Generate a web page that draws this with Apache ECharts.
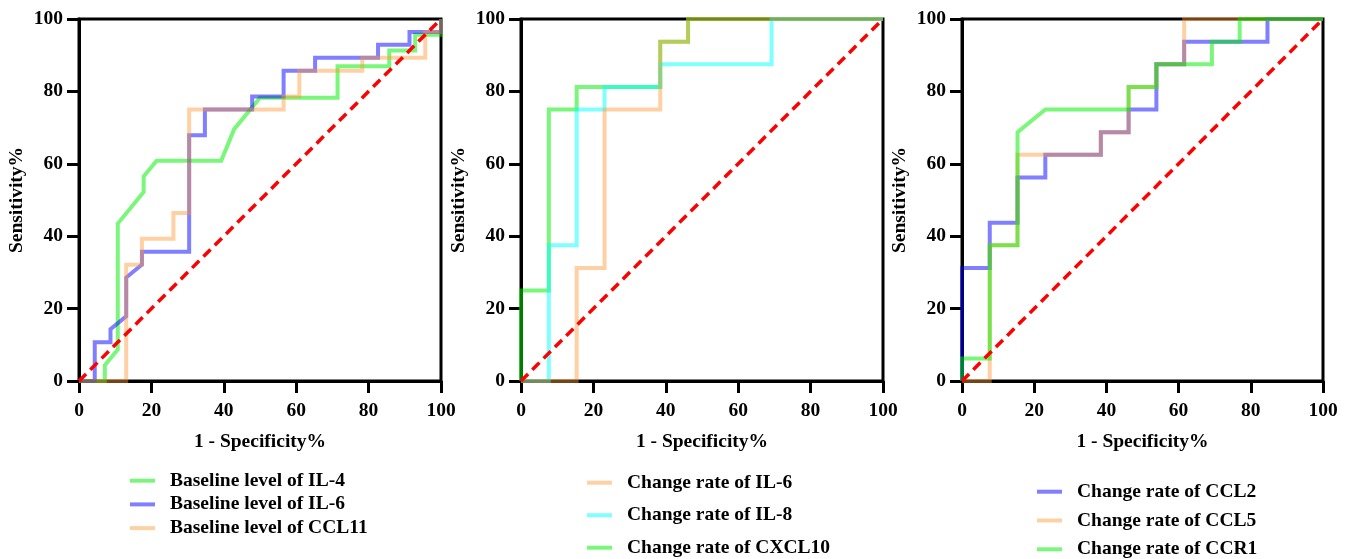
<!DOCTYPE html>
<html>
<head>
<meta charset="utf-8">
<title>ROC curves</title>
<script src="https://cdn.jsdelivr.net/npm/echarts@6/dist/echarts.min.js"></script>
<style>
  html, body { margin: 0; padding: 0; background: #fff; }
  #chart { width: 1350px; height: 559px; }
</style>
</head>
<body>
<div id="chart"></div>
<script>
// Axis ticks shared by all three panels (percent scale)
const axisTicks = [0, 20, 40, 60, 80, 100];

// Panel A: baseline levels — ROC points [1 - specificity %, sensitivity %]
const baseIL4 = [[0,0],[7.14,0],[7.14,4.35],[10.71,8.7],[10.71,43.48],[17.86,52.17],[17.86,56.52],[21.43,60.87],[39.29,60.87],[42.86,69.57],[50,78.26],[71.43,78.26],[71.43,86.96],[85.71,86.96],[85.71,91.3],[92.86,91.3],[92.86,95.65],[100,95.65],[100,100]];
const baseIL6 = [[0,0],[4.35,0],[4.35,10.71],[8.7,10.71],[8.7,14.29],[13.04,17.86],[13.04,28.57],[17.39,32.14],[17.39,35.71],[30.43,35.71],[30.43,67.86],[34.78,67.86],[34.78,75],[47.83,75],[47.83,78.57],[56.52,78.57],[56.52,85.71],[65.22,85.71],[65.22,89.29],[82.61,89.29],[82.61,92.86],[91.3,92.86],[91.3,96.43],[100,96.43],[100,100]];
const baseCCL11 = [[0,0],[13.04,0],[13.04,32.14],[17.39,32.14],[17.39,39.29],[26.09,39.29],[26.09,46.43],[30.43,46.43],[30.43,75],[56.52,75],[56.52,78.57],[60.87,78.57],[60.87,85.71],[78.26,85.71],[78.26,89.29],[95.65,89.29],[95.65,96.43],[100,96.43],[100,100]];

// Panel B: change rates
const rateIL6 = [[0,0],[15.38,0],[15.38,31.25],[23.08,31.25],[23.08,75],[38.46,75],[38.46,93.75],[46.15,93.75],[46.15,100],[100,100]];
const rateIL8 = [[0,0],[7.69,0],[7.69,37.5],[15.38,37.5],[15.38,75],[23.08,75],[23.08,81.25],[38.46,81.25],[38.46,87.5],[69.23,87.5],[69.23,100],[100,100]];
const rateCXCL10 = [[0,0],[0,25],[7.69,25],[7.69,75],[15.38,75],[15.38,81.25],[38.46,81.25],[38.46,93.75],[46.15,93.75],[46.15,100],[100,100]];

// Panel C: change rates of chemokines / receptor
const rateCCL2 = [[0,0],[0,31.25],[7.69,31.25],[7.69,43.75],[15.38,43.75],[15.38,56.25],[23.08,56.25],[23.08,62.5],[38.46,62.5],[38.46,68.75],[46.15,68.75],[46.15,75],[53.85,75],[53.85,87.5],[61.54,87.5],[61.54,93.75],[84.62,93.75],[84.62,100],[100,100]];
const rateCCL5 = [[0,0],[7.69,0],[7.69,37.5],[15.38,37.5],[15.38,62.5],[38.46,62.5],[38.46,68.75],[46.15,68.75],[46.15,81.25],[53.85,81.25],[53.85,87.5],[61.54,87.5],[61.54,100],[100,100]];
const rateCCR1 = [[0,0],[0,6.25],[7.69,6.25],[7.69,37.5],[15.38,37.5],[15.38,68.75],[23.08,75],[46.15,75],[46.15,81.25],[53.85,81.25],[53.85,87.5],[69.23,87.5],[69.23,93.75],[76.92,93.75],[76.92,100],[100,100]];

// Chance line
const chanceLine = [[0,0],[100,100]];

const GREEN = 'rgba(0,240,0,0.52)';
const BLUE = 'rgba(0,0,255,0.5)';
const PEACH = 'rgba(255,150,50,0.45)';
const CYAN = 'rgba(0,255,255,0.5)';
const FONT = '"Liberation Serif", "Times New Roman", serif';

// curves are listed in legend order; drawOrder gives the stacking (last on top)
const panels = [
  { left: 79, width: 362, legendLeft: 130, legendTop: 470.7, gap: 3.7, drawOrder: [0, 1, 2],
    curves: [['Baseline level of IL-4', baseIL4, GREEN], ['Baseline level of IL-6', baseIL6, BLUE], ['Baseline level of CCL11', baseCCL11, PEACH]] },
  { left: 521, width: 362, legendLeft: 587, legendTop: 472.7, gap: 12.5, drawOrder: [2, 1, 0],
    curves: [['Change rate of IL-6', rateIL6, PEACH], ['Change rate of IL-8', rateIL8, CYAN], ['Change rate of CXCL10', rateCXCL10, GREEN]] },
  { left: 962, width: 361, legendLeft: 1037, legendTop: 481.7, gap: 8.8, drawOrder: [0, 1, 2],
    curves: [['Change rate of CCL2', rateCCL2, BLUE], ['Change rate of CCL5', rateCCL5, PEACH], ['Change rate of CCR1', rateCCR1, GREEN]] }
];

const grid = [], xAxis = [], yAxis = [], series = [], legend = [];

panels.forEach((p, i) => {
  grid.push({ left: p.left, top: 19, width: p.width, height: 362, show: true, borderColor: '#000', borderWidth: 3, containLabel: false });
  const labelStyle = { color: '#000', fontFamily: FONT, fontWeight: 'bold', fontSize: 19.5 };
  xAxis.push({
    type: 'value', gridIndex: i, min: axisTicks[0], max: axisTicks[axisTicks.length - 1], interval: axisTicks[1] - axisTicks[0],
    name: '1 - Specificity%', nameLocation: 'middle', nameGap: 51, nameTextStyle: labelStyle,
    axisLine: { lineStyle: { color: '#000', width: 3 } },
    axisTick: { inside: false, length: 12, lineStyle: { color: '#000', width: 3 } },
    axisLabel: Object.assign({ margin: 20 }, labelStyle),
    splitLine: { show: false }
  });
  yAxis.push({
    type: 'value', gridIndex: i, min: axisTicks[0], max: axisTicks[axisTicks.length - 1], interval: axisTicks[1] - axisTicks[0],
    name: 'Sensitivity%', nameLocation: 'middle', nameGap: 52, nameTextStyle: labelStyle,
    axisLine: { lineStyle: { color: '#000', width: 3 } },
    axisTick: { inside: false, length: 12, lineStyle: { color: '#000', width: 3 } },
    axisLabel: Object.assign({ margin: 16 }, labelStyle),
    splitLine: { show: false }
  });
  p.drawOrder.forEach(k => {
    const [name, data, color] = p.curves[k];
    series.push({
      name, type: 'line', xAxisIndex: i, yAxisIndex: i, data, symbol: 'none', silent: true,
      lineStyle: { color, width: 4, cap: 'butt', join: 'miter' },
      itemStyle: { color }, z: 3
    });
  });
  series.push({
    name: 'chance-' + i, type: 'line', xAxisIndex: i, yAxisIndex: i, data: chanceLine, symbol: 'none', silent: true,
    lineStyle: { color: '#ff0000', width: 3.5, type: [10, 6] }, z: 5
  });
  legend.push({
    orient: 'vertical', left: p.legendLeft, top: p.legendTop, height: 150, padding: 0, itemGap: p.gap,
    icon: 'rect', itemWidth: 25, itemHeight: 4, selectedMode: false,
    data: p.curves.map(c => c[0]),
    textStyle: { color: '#000', fontFamily: FONT, fontWeight: 'bold', fontSize: 19.5, padding: [0, 0, 0, 10] }
  });
});

const chart = echarts.init(document.getElementById('chart'), null, { renderer: 'canvas' });
chart.setOption({ animation: false, backgroundColor: '#fff', grid, xAxis, yAxis, series, legend });
</script>
</body>
</html>
